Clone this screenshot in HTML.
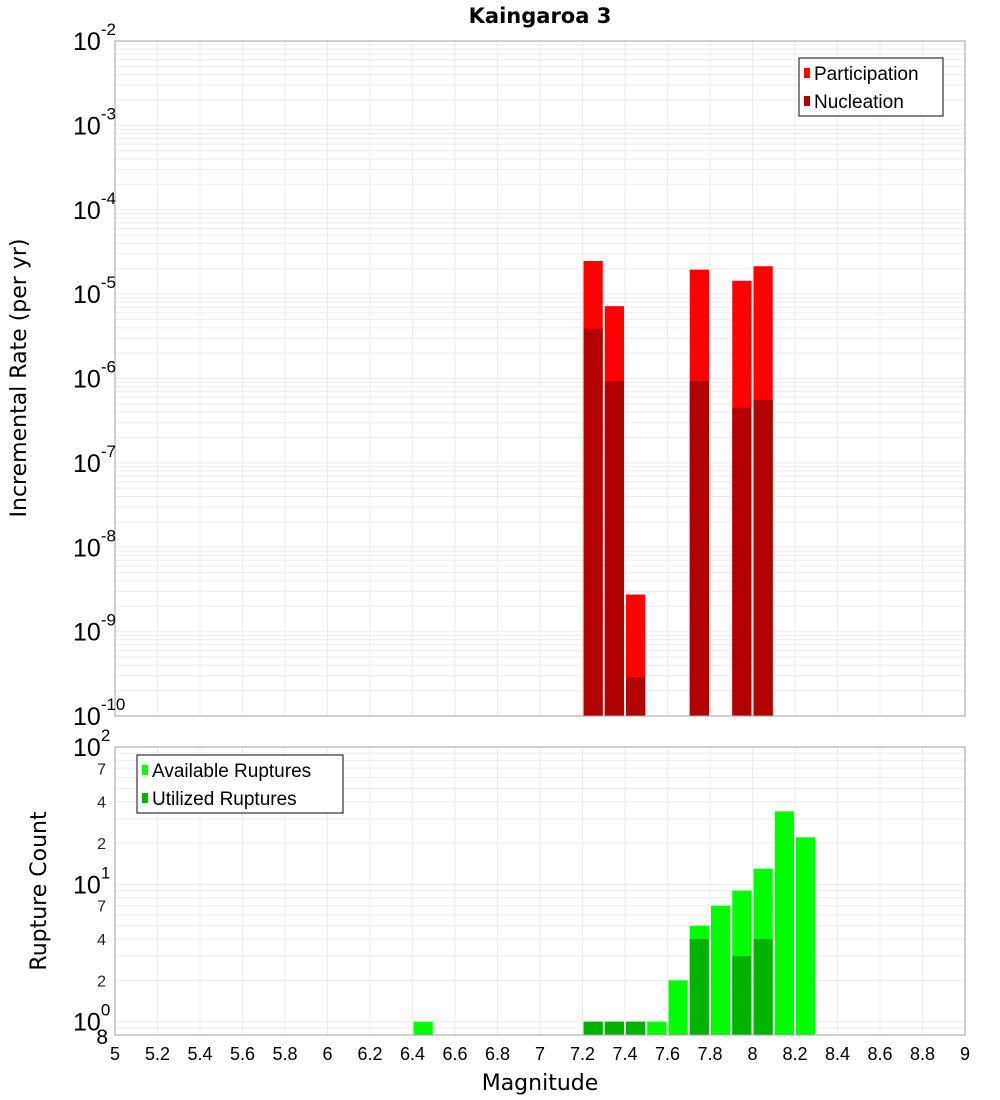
<!DOCTYPE html>
<html><head><meta charset="utf-8"><style>
html,body{margin:0;padding:0;background:#fff;}
svg{display:block;font-family:"Liberation Sans","DejaVu Sans",sans-serif;}
</style></head><body>
<svg id="chart" width="1000" height="1100" viewBox="0 0 1000 1100" xmlns="http://www.w3.org/2000/svg">
<text x="540" y="23" text-anchor="middle" font-size="21" font-weight="bold" font-family="DejaVu Sans, sans-serif">Kaingaroa 3</text>
<g id="topg"></g><g id="botg"></g>
<text transform="translate(26,378) rotate(-90)" text-anchor="middle" font-size="22" font-family="DejaVu Sans, sans-serif">Incremental Rate (per yr)</text>
<text transform="translate(46,891) rotate(-90)" text-anchor="middle" font-size="22" font-family="DejaVu Sans, sans-serif">Rupture Count</text>
<text x="540" y="1090" text-anchor="middle" font-size="22" font-family="DejaVu Sans, sans-serif">Magnitude</text>
</svg>
<script>
const partMags = [7.25, 7.35, 7.45, 7.75, 7.95, 8.05];
const partRates = [2.47e-5, 7.2e-6, 2.75e-9, 1.95e-5, 1.44e-5, 2.14e-5];
const nuclMags = [7.25, 7.35, 7.45, 7.75, 7.95, 8.05];
const nuclRates = [3.9e-6, 9.3e-7, 2.9e-10, 9.3e-7, 4.5e-7, 5.6e-7];
const availMags = [6.45, 7.25, 7.35, 7.45, 7.55, 7.65, 7.75, 7.85, 7.95, 8.05, 8.15, 8.25];
const availCounts = [1, 1, 1, 1, 1, 2, 5, 7, 9, 13, 34, 22];
const utilMags = [7.25, 7.35, 7.45, 7.75, 7.95, 8.05];
const utilCounts = [1, 1, 1, 4, 3, 4];
const xTicks = [5,5.2,5.4,5.6,5.8,6,6.2,6.4,6.6,6.8,7,7.2,7.4,7.6,7.8,8,8.2,8.4,8.6,8.8,9];
const topExps = [-2,-3,-4,-5,-6,-7,-8,-9,-10];
const botExps = [2,1,0];
const botMinorLabels = [7,4,2];

const NS="http://www.w3.org/2000/svg";
const L=115,R=965,T1=41,B1=716,T2=747,B2=1035;
const xs=m=>L+(m-5)/4*(R-L);
const y1=v=>T1+(-2-Math.log10(v))/8*(B1-T1);
const botMin=Math.log10(0.8);
const y2=v=>T2+(2-Math.log10(v))/(2-botMin)*(B2-T2);
function el(p,tag,a){const e=document.createElementNS(NS,tag);for(const k in a)e.setAttribute(k,a[k]);p.appendChild(e);return e;}
const gTop=document.getElementById('topg'),gBot=document.getElementById('botg');
const binW=0.1*(R-L)/4;

function grid(g,T,B,yf,decades){
  for(const t of xTicks){const l=el(g,'line',{x1:xs(t),x2:xs(t),y1:T,y2:B,stroke:'#ebebeb','stroke-width':1});
  
  }
  for(const d of decades){for(let k=1;k<10;k++){const v=k*Math.pow(10,d);const yy=yf(v);if(yy<T-0.5||yy>B+0.5)continue;
    const l=el(g,'line',{x1:L,x2:R,y1:yy,y2:yy,stroke:'#ebebeb','stroke-width':1});
    
    }}
}
grid(gTop,T1,B1,y1,[-10,-9,-8,-7,-6,-5,-4,-3,-2]);
grid(gBot,T2,B2,y2,[-1,0,1,2]);

function bars(g,mags,vals,yf,B,color,name){
  mags.forEach((m,i)=>{const yy=yf(vals[i]);
    const r=el(g,'rect',{x:xs(m-0.05)+1,y:yy,width:binW-2,height:B-yy,fill:color});
    
    });
}
bars(gTop,partMags,partRates,y1,B1,'#ff0000','participation-bar');
bars(gTop,nuclMags,nuclRates,y1,B1,'#b30000','nucleation-bar');
bars(gBot,availMags,availCounts,y2,B2,'#00ff00','available-bar');
bars(gBot,utilMags,utilCounts,y2,B2,'#00b300','utilized-bar');

for(const [g,T,B,n] of [[gTop,T1,B1,'top-plot-border'],[gBot,T2,B2,'bottom-plot-border']]){
  const r=el(g,'rect',{x:L,y:T,width:R-L,height:B-T,fill:'none',stroke:'#a0a0a0','stroke-width':1});
  
  
}

function powLabel(g,yy,e,name){
  const t=el(g,'text',{x:73,y:yy+9,'font-size':25});
  
  
  const a=el(t,'tspan',{});a.textContent='10';
  const b=el(t,'tspan',{dy:-15,'font-size':17});b.textContent=String(e);
}
topExps.forEach(e=>powLabel(gTop,y1(Math.pow(10,e)),e,'y-tick-label-top'));
botExps.forEach(e=>powLabel(gBot,y2(Math.pow(10,e)),e,'y-tick-label-bottom'));
for(const d of [1,0]){botMinorLabels.forEach(k=>{const yy=y2(k*Math.pow(10,d));
  const t=el(gBot,'text',{x:106,y:yy+6,'text-anchor':'end','font-size':16,fill:'#222'});t.textContent=String(k);
  
  });}
{const t=el(gBot,'text',{x:108,y:B2+9,'text-anchor':'end','font-size':21});t.textContent='8';
 
 }

xTicks.forEach(t=>{const s=el(gBot,'text',{x:xs(t),y:1060,'text-anchor':'middle','font-size':18});
  s.textContent=String(t);
  
  });

function legend(g,bx,by,w,items,name){
  const gg=el(g,'g',{});
  
  
  el(gg,'rect',{x:bx,y:by,width:w,height:58,fill:'#fff',stroke:'#333','stroke-width':1.2});
  items.forEach((it,i)=>{const yy=by+15+i*28;
    el(gg,'rect',{x:bx+5,y:yy-5,width:6,height:10,fill:it[1]});
    const t=el(gg,'text',{x:bx+15,y:yy+7,'font-size':19});t.textContent=it[0];});
}
legend(gTop,799,58,144,[['Participation','#ff0000'],['Nucleation','#b30000']],'legend-top');
legend(gBot,137,755,206,[['Available Ruptures','#00ff00'],['Utilized Ruptures','#00b300']],'legend-bottom');
</script>
</body></html>
